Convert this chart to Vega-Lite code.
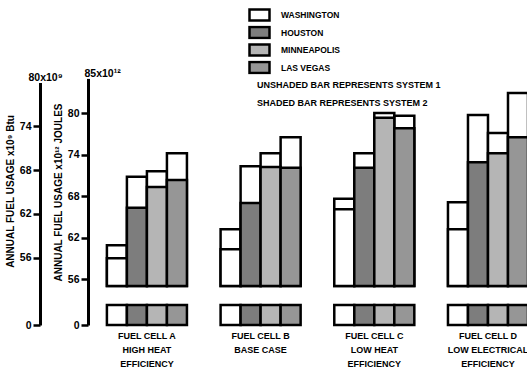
{
  "$schema": "https://vega.github.io/schema/vega-lite/v6.json",
  "width": 441,
  "height": 275,
  "autosize": "none",
  "padding": {"left": 88, "top": 50, "right": 0, "bottom": 48},
  "background": "white",
  "config": {
    "view": {"stroke": null},
    "font": "Liberation Sans, Arial, sans-serif",
    "axis": {
      "labelFont": "Liberation Sans, Arial, sans-serif",
      "titleFont": "Liberation Sans, Arial, sans-serif",
      "labelFontWeight": "bold",
      "titleFontWeight": "bold",
      "labelColor": "black",
      "titleColor": "black",
      "domainColor": "black",
      "tickColor": "black",
      "grid": false
    },
    "legend": {
      "labelFont": "Liberation Sans, Arial, sans-serif",
      "labelFontWeight": "bold",
      "labelColor": "black",
      "labelFontSize": 8.5,
      "labelLimit": 300,
      "padding": 0,
      "clipHeight": 14,
      "rowPadding": 3.5
    }
  },
  "data": {
    "values": [
      {"cell": "FUEL CELL A|HIGH HEAT|EFFICIENCY", "city": "WASHINGTON", "system": "1", "value": 60.9},
      {"cell": "FUEL CELL A|HIGH HEAT|EFFICIENCY", "city": "WASHINGTON", "system": "2", "value": 59.0},
      {"cell": "FUEL CELL A|HIGH HEAT|EFFICIENCY", "city": "HOUSTON", "system": "1", "value": 70.8},
      {"cell": "FUEL CELL A|HIGH HEAT|EFFICIENCY", "city": "HOUSTON", "system": "2", "value": 66.3},
      {"cell": "FUEL CELL A|HIGH HEAT|EFFICIENCY", "city": "MINNEAPOLIS", "system": "1", "value": 71.6},
      {"cell": "FUEL CELL A|HIGH HEAT|EFFICIENCY", "city": "MINNEAPOLIS", "system": "2", "value": 69.3},
      {"cell": "FUEL CELL A|HIGH HEAT|EFFICIENCY", "city": "LAS VEGAS", "system": "1", "value": 74.2},
      {"cell": "FUEL CELL A|HIGH HEAT|EFFICIENCY", "city": "LAS VEGAS", "system": "2", "value": 70.3},
      {"cell": "FUEL CELL B|BASE CASE", "city": "WASHINGTON", "system": "1", "value": 63.2},
      {"cell": "FUEL CELL B|BASE CASE", "city": "WASHINGTON", "system": "2", "value": 60.3},
      {"cell": "FUEL CELL B|BASE CASE", "city": "HOUSTON", "system": "1", "value": 72.3},
      {"cell": "FUEL CELL B|BASE CASE", "city": "HOUSTON", "system": "2", "value": 67.0},
      {"cell": "FUEL CELL B|BASE CASE", "city": "MINNEAPOLIS", "system": "1", "value": 74.2},
      {"cell": "FUEL CELL B|BASE CASE", "city": "MINNEAPOLIS", "system": "2", "value": 72.2},
      {"cell": "FUEL CELL B|BASE CASE", "city": "LAS VEGAS", "system": "1", "value": 76.5},
      {"cell": "FUEL CELL B|BASE CASE", "city": "LAS VEGAS", "system": "2", "value": 72.1},
      {"cell": "FUEL CELL C|LOW HEAT|EFFICIENCY", "city": "WASHINGTON", "system": "1", "value": 67.6},
      {"cell": "FUEL CELL C|LOW HEAT|EFFICIENCY", "city": "WASHINGTON", "system": "2", "value": 66.1},
      {"cell": "FUEL CELL C|LOW HEAT|EFFICIENCY", "city": "HOUSTON", "system": "1", "value": 74.2},
      {"cell": "FUEL CELL C|LOW HEAT|EFFICIENCY", "city": "HOUSTON", "system": "2", "value": 72.1},
      {"cell": "FUEL CELL C|LOW HEAT|EFFICIENCY", "city": "MINNEAPOLIS", "system": "1", "value": 80.0},
      {"cell": "FUEL CELL C|LOW HEAT|EFFICIENCY", "city": "MINNEAPOLIS", "system": "2", "value": 79.3},
      {"cell": "FUEL CELL C|LOW HEAT|EFFICIENCY", "city": "LAS VEGAS", "system": "1", "value": 79.6},
      {"cell": "FUEL CELL C|LOW HEAT|EFFICIENCY", "city": "LAS VEGAS", "system": "2", "value": 77.8},
      {"cell": "FUEL CELL D|LOW ELECTRICAL|EFFICIENCY", "city": "WASHINGTON", "system": "1", "value": 67.1},
      {"cell": "FUEL CELL D|LOW ELECTRICAL|EFFICIENCY", "city": "WASHINGTON", "system": "2", "value": 63.2},
      {"cell": "FUEL CELL D|LOW ELECTRICAL|EFFICIENCY", "city": "HOUSTON", "system": "1", "value": 79.7},
      {"cell": "FUEL CELL D|LOW ELECTRICAL|EFFICIENCY", "city": "HOUSTON", "system": "2", "value": 72.9},
      {"cell": "FUEL CELL D|LOW ELECTRICAL|EFFICIENCY", "city": "MINNEAPOLIS", "system": "1", "value": 77.1},
      {"cell": "FUEL CELL D|LOW ELECTRICAL|EFFICIENCY", "city": "MINNEAPOLIS", "system": "2", "value": 74.2},
      {"cell": "FUEL CELL D|LOW ELECTRICAL|EFFICIENCY", "city": "LAS VEGAS", "system": "1", "value": 82.9},
      {"cell": "FUEL CELL D|LOW ELECTRICAL|EFFICIENCY", "city": "LAS VEGAS", "system": "2", "value": 76.5}
    ]
  },
  "layer": [
    {
      "encoding": {
        "x": {
          "field": "cell",
          "type": "nominal",
          "sort": ["FUEL CELL A|HIGH HEAT|EFFICIENCY", "FUEL CELL B|BASE CASE", "FUEL CELL C|LOW HEAT|EFFICIENCY", "FUEL CELL D|LOW ELECTRICAL|EFFICIENCY"],
          "scale": {"paddingInner": 0.296, "paddingOuter": 0.0875, "align": 0.95},
          "axis": {
            "title": null,
            "domain": false,
            "ticks": false,
            "labelAngle": 0,
            "labelExpr": "split(datum.value, '|')",
            "labelFontSize": 9,
            "labelLineHeight": 14,
            "labelPadding": 6,
            "labelBaseline": "top"
          }
        },
        "xOffset": {
          "field": "city",
          "type": "nominal",
          "sort": ["WASHINGTON", "HOUSTON", "MINNEAPOLIS", "LAS VEGAS"],
          "scale": {"paddingInner": 0, "paddingOuter": 0}
        }
      },
      "layer": [
        {
          "transform": [{"filter": "datum.system == '1'"}],
          "mark": {"type": "bar", "fill": "white", "stroke": "black", "strokeWidth": 2.5},
          "encoding": {
            "y": {
              "field": "value",
              "type": "quantitative",
              "scale": {"domain": [0, 3, 55, 85], "range": [275, 255, 236, 28.4], "nice": false, "zero": false},
              "axis": {
                "orient": "left",
                "title": "ANNUAL FUEL USAGE x10¹² JOULES",
                "titleFontSize": 10,
                "titleAngle": 270,
                "titleAlign": "center",
                "titleBaseline": "middle",
                "titleX": -30,
                "titleY": 142,
                "values": [0, 56, 62, 68, 74, 80],
                "labelFontSize": 10.5,
                "labelFlush": false,
                "labelOverlap": false,
                "labelAlign": "right",
                "labelBaseline": "middle",
                "domainWidth": 3,
                "tickWidth": 2.5,
                "tickSize": 7,
                "labelPadding": 2
              }
            },
            "y2": {"datum": 55},
            "strokeDash": {
              "field": "system",
              "type": "nominal",
              "scale": {"domain": ["1", "2"], "range": [[1, 0], [1, 0]]},
              "legend": {
                "orient": "none",
                "legendX": 160,
                "legendY": 28,
                "title": null,
                "symbolSize": 0,
                "symbolOpacity": 0,
                "labelOffset": 0,
                "labelFontSize": 9,
                "labelExpr": "datum.value == '1' ? 'UNSHADED BAR REPRESENTS SYSTEM 1' : 'SHADED BAR REPRESENTS SYSTEM 2'"
              }
            }
          }
        },
        {
          "transform": [{"filter": "datum.system == '2'"}],
          "mark": {"type": "bar", "stroke": "black", "strokeWidth": 2.5},
          "encoding": {
            "y": {
              "field": "value",
              "type": "quantitative",
              "scale": {"domain": [0, 3, 55, 85], "range": [275, 255, 236, 28.4], "nice": false, "zero": false}
            },
            "y2": {"datum": 55},
            "fill": {
              "field": "city",
              "type": "nominal",
              "scale": {
                "domain": ["WASHINGTON", "HOUSTON", "MINNEAPOLIS", "LAS VEGAS"],
                "range": ["#ffffff", "#7d7d7d", "#b5b5b5", "#969696"]
              },
              "legend": {
                "orient": "none",
                "legendX": 160,
                "legendY": -42,
                "title": null,
                "symbolType": "M-1,-0.55H1V0.55H-1Z",
                "symbolSize": 400,
                "symbolStrokeColor": "black",
                "symbolStrokeWidth": 2.5,
                "symbolOpacity": 1,
                "labelOffset": 10
              }
            },
            "strokeDash": {"field": "system", "type": "nominal"}
          }
        },
        {
          "transform": [{"filter": "datum.system == '2'"}],
          "mark": {"type": "bar", "stroke": "black", "strokeWidth": 2.5},
          "encoding": {
            "y": {
              "datum": 3,
              "type": "quantitative",
              "scale": {"domain": [0, 3, 55, 85], "range": [275, 255, 236, 28.4], "nice": false, "zero": false}
            },
            "y2": {"datum": 0},
            "fill": {"field": "city", "type": "nominal"}
          }
        }
      ]
    },
    {
      "mark": {"type": "point", "opacity": 0},
      "encoding": {
        "y": {
          "datum": 0,
          "type": "quantitative",
          "scale": {"domain": [0, 3, 55, 85], "range": [275, 255, 236, 28.4], "nice": false, "zero": false},
          "axis": {
            "orient": "left",
            "title": null,
            "domain": false,
            "ticks": false,
            "tickSize": 0,
            "values": [85],
            "labelExpr": "'85x10¹²'",
            "labelFontSize": 10.5,
            "labelFlush": false,
            "labelOverlap": false,
            "labelAlign": "left",
            "labelBaseline": "bottom",
            "labelPadding": 4
          }
        }
      }
    },
    {
      "mark": {"type": "point", "opacity": 0},
      "encoding": {
        "y": {
          "datum": 0,
          "type": "quantitative",
          "scale": {"domain": [0, 2.84, 52.13, 80], "range": [275, 255, 236, 32.5], "nice": false, "zero": false},
          "axis": {
            "orient": "left",
            "offset": 48,
            "title": "ANNUAL FUEL USAGE x10⁹ Btu",
            "titleFontSize": 10,
            "titleAngle": 270,
            "titleAlign": "center",
            "titleBaseline": "middle",
            "titleX": -30,
            "titleY": 141,
            "values": [0, 56, 62, 68, 74],
            "labelFontSize": 10.5,
            "labelFlush": false,
            "labelOverlap": false,
            "labelAlign": "right",
            "labelBaseline": "middle",
            "domainWidth": 3,
            "tickWidth": 2.5,
            "tickSize": 7,
            "labelPadding": 2
          }
        }
      }
    },
    {
      "mark": {"type": "point", "opacity": 0},
      "encoding": {
        "y": {
          "datum": 0,
          "type": "quantitative",
          "scale": {"domain": [0, 2.84, 52.13, 80], "range": [275, 255, 236, 32.5], "nice": false, "zero": false},
          "axis": {
            "orient": "left",
            "offset": 48,
            "title": null,
            "domain": false,
            "ticks": false,
            "tickSize": 0,
            "values": [80],
            "labelExpr": "'80x10⁹'",
            "labelFontSize": 10.5,
            "labelFlush": false,
            "labelOverlap": false,
            "labelAlign": "left",
            "labelBaseline": "bottom",
            "labelPadding": 12
          }
        }
      }
    }
  ],
  "resolve": {"scale": {"y": "independent"}}
}
